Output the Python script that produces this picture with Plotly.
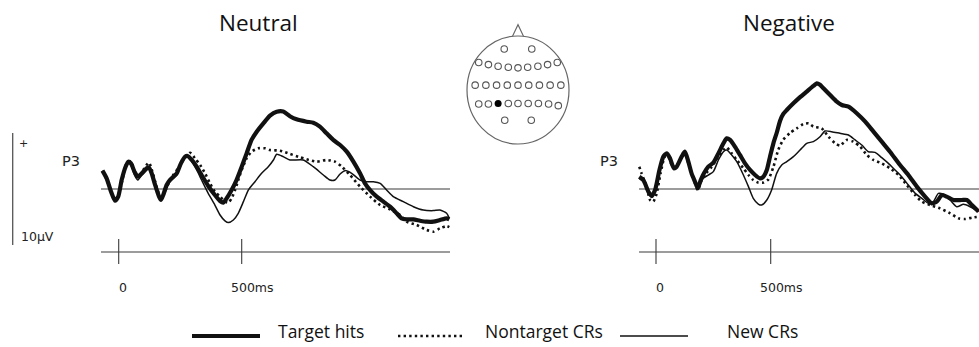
import plotly.graph_objects as go

W, H = 979, 347

# ---------------- data (time in ms, amplitude in microvolts) ----------------
neutral_target_t = [-66, -49, -31, -15, -2, 12, 28, 39, 50, 64, 77, 94, 114, 123, 134, 148, 164, 172, 181, 195,
                    208, 222, 236, 253, 270, 280, 297, 317, 337, 364, 391, 412, 425, 439, 459, 479, 500, 520, 540,
                    561, 588, 615, 642, 669, 696, 723, 764, 791, 818, 845, 872, 900, 927, 954, 981, 1001, 1022,
                    1049, 1076, 1103, 1130, 1150, 1171, 1198, 1225, 1252, 1279, 1306, 1333, 1344]
neutral_target_v = [1.64, 0.95, -0.24, -1.04, -0.68, 0.80, 1.99, 2.44, 2.29, 1.55, 1.10, 1.40, 1.85, 1.93, 1.40,
                    0.36, -0.68, -0.98, -0.54, 0.36, 0.80, 1.10, 1.40, 2.29, 2.89, 2.95, 2.59, 1.99, 1.25, 0.27,
                    -0.54, -1.07, -1.22, -0.83, -0.09, 0.80, 1.99, 3.18, 4.38, 5.12, 5.86, 6.55, 6.90, 6.92, 6.50,
                    6.22, 6.01, 5.92, 5.57, 4.97, 4.38, 3.93, 3.33, 2.44, 1.40, 0.51, -0.09, -0.68, -1.13, -1.58,
                    -2.17, -2.62, -2.71, -2.71, -2.83, -2.92, -2.92, -2.77, -2.62, -2.71]

neutral_nontarget_t = [-66, -49, -31, -15, 1, 15, 32, 50, 66, 83, 100, 123, 137, 154, 172, 188, 204, 222, 242, 263,
                       290, 310, 331, 351, 371, 391, 412, 432, 446, 459, 473, 486, 500, 520, 540, 567, 595, 615,
                       656, 696, 737, 764, 805, 845, 879, 907, 940, 981, 1022, 1063, 1103, 1144, 1171, 1211, 1252,
                       1279, 1306, 1333, 1344]
neutral_nontarget_v = [1.64, 0.86, -0.24, -0.98, -0.39, 0.80, 2.29, 2.44, 1.46, 1.10, 1.70, 2.35, 1.55, 0.21, -0.83,
                       -0.24, 0.57, 1.25, 1.85, 2.59, 3.24, 2.74, 2.14, 1.40, 0.51, -0.24, -0.68, -1.13, -1.22,
                       -0.83, -0.09, 0.80, 1.70, 2.74, 3.33, 3.63, 3.63, 3.48, 3.42, 3.13, 2.83, 2.65, 2.44, 2.59,
                       2.44, 1.99, 1.25, 0.21, -0.68, -1.43, -1.82, -2.32, -2.92, -3.21, -3.66, -3.81, -3.51, -3.30,
                       -3.40]

neutral_new_t = [-66, -49, -31, -15, -1, 12, 28, 39, 50, 64, 77, 94, 114, 123, 134, 148, 164, 172, 181, 195, 208,
                 222, 236, 253, 270, 280, 297, 317, 337, 364, 391, 412, 432, 446, 466, 486, 507, 527, 554, 581, 608,
                 629, 642, 669, 696, 750, 791, 832, 859, 879, 900, 920, 947, 981, 1008, 1035, 1063, 1089, 1116,
                 1157, 1198, 1238, 1279, 1306, 1333, 1344]
neutral_new_v = [1.55, 0.95, -0.24, -1.04, -0.68, 0.80, 1.99, 2.35, 2.14, 1.25, 0.80, 1.25, 1.70, 1.85, 1.25, 0.36,
                 -0.68, -0.98, -0.54, 0.21, 0.65, 0.95, 1.25, 2.14, 2.83, 2.89, 2.44, 1.70, 0.80, -0.39, -1.43,
                 -2.32, -2.85, -3.00, -2.77, -2.17, -1.13, -0.09, 0.65, 1.40, 1.99, 2.59, 3.10, 2.89, 2.59, 2.59,
                 1.99, 1.25, 0.80, 0.80, 1.34, 1.64, 1.40, 0.80, 0.65, 0.65, 0.51, -0.09, -0.68, -1.13, -1.58,
                 -1.88, -1.93, -1.88, -2.17, -2.62]

negative_target_t = [-73, -55, -33, -19, -4, 15, 32, 47, 61, 78, 90, 112, 126, 141, 155, 170, 182, 195, 209, 228,
                     250, 272, 294, 308, 323, 344, 366, 388, 410, 432, 453, 468, 483, 497, 512, 526, 541, 555, 570,
                     599, 628, 657, 686, 701, 715, 730, 759, 788, 810, 839, 875, 912, 948, 984, 1020, 1064, 1100,
                     1137, 1173, 1202, 1224, 1246, 1267, 1297, 1333, 1355, 1377, 1406]
negative_target_v = [1.10, 0.80, -0.24, -0.63, -0.09, 1.70, 2.89, 3.18, 2.74, 1.85, 1.99, 2.89, 3.33, 2.44, 1.40,
                     0.65, 0.06, 0.80, 1.40, 1.99, 2.35, 3.18, 4.08, 4.52, 4.38, 3.78, 3.04, 2.29, 1.70, 1.25, 0.95,
                     1.10, 1.70, 2.89, 4.10, 5.00, 6.10, 6.70, 7.05, 7.65, 8.20, 8.70, 9.20, 9.43, 9.30, 8.99, 8.39,
                     7.80, 7.50, 7.35, 6.76, 6.01, 5.12, 4.23, 3.33, 2.14, 1.25, 0.21, -0.68, -1.28, -1.13, -0.54,
                     -0.68, -0.98, -0.98, -0.98, -1.43, -2.02]

negative_nontarget_t = [-73, -63, -41, -26, -12, 3, 20, 39, 54, 68, 83, 105, 126, 141, 163, 182, 199, 218, 243, 272,
                        294, 308, 330, 352, 381, 403, 424, 446, 468, 490, 512, 533, 555, 584, 613, 642, 665, 686,
                        722, 752, 781, 802, 831, 860, 890, 919, 948, 984, 1020, 1057, 1093, 1130, 1159, 1195, 1238,
                        1282, 1319, 1348, 1377, 1406]
negative_nontarget_v = [1.99, 1.40, 0.21, -0.98, -1.13, -0.39, 1.40, 2.89, 2.89, 2.14, 1.85, 2.59, 3.18, 2.29, 0.95,
                        -0.09, 0.80, 1.40, 1.99, 2.89, 3.48, 3.72, 3.18, 2.59, 1.85, 1.25, 0.80, 0.57, 0.57, 0.86,
                        1.99, 3.50, 4.40, 5.00, 5.40, 5.80, 5.86, 5.57, 5.42, 4.67, 4.08, 3.87, 4.38, 4.23, 3.78,
                        3.04, 2.59, 2.29, 1.85, 1.25, 0.36, -0.54, -1.13, -1.43, -1.73, -2.17, -2.62, -2.68, -2.56,
                        -2.47]

negative_new_t = [-73, -55, -33, -19, -4, 15, 32, 47, 61, 78, 90, 112, 126, 141, 155, 170, 182, 206, 228, 250, 272,
                  294, 308, 330, 352, 381, 403, 424, 446, 461, 483, 504, 526, 548, 570, 599, 628, 657, 686, 715, 737,
                  766, 802, 839, 868, 897, 926, 955, 984, 1013, 1042, 1071, 1100, 1130, 1159, 1188, 1209, 1231, 1253,
                  1282, 1311, 1340, 1369, 1406]
negative_new_v = [0.95, 0.65, -0.24, -0.63, -0.09, 1.70, 2.80, 3.10, 2.65, 1.80, 1.90, 2.80, 3.25, 2.40, 1.35, 0.65,
                  0.06, 0.95, 1.25, 1.55, 2.59, 3.33, 3.48, 3.04, 2.44, 1.25, 0.21, -0.83, -1.34, -1.43, -0.98, -0.09,
                  1.40, 2.14, 2.44, 2.89, 3.48, 4.08, 4.23, 4.67, 5.18, 5.12, 4.97, 4.82, 4.38, 3.93, 3.33, 3.27,
                  2.80, 2.29, 1.70, 1.10, 0.36, -0.39, -0.83, -1.28, -1.13, -0.39, -0.48, -0.98, -1.58, -1.37, -1.58,
                  -2.02]

panel_titles = ["Neutral", "Negative"]
series_names = ["Target hits", "Nontarget CRs", "New CRs"]
tick_values = [0, 500]
tick_labels = ["0", "500ms"]
scale_bar_uv = 10
channel = "P3"

# electrode montage, head-normalised coordinates (u right, w up)
elec_u = [-0.27, 0.27,
          -0.77, -0.58, -0.39, -0.19, 0.0, 0.19, 0.39, 0.58, 0.77,
          -0.84, -0.63, -0.42, -0.21, 0.0, 0.21, 0.42, 0.63, 0.84,
          -0.77, -0.58, -0.39, -0.19, 0.0, 0.2, 0.4, 0.6, 0.79,
          -0.26, 0.26]
elec_w = [0.76, 0.76,
          0.51, 0.47, 0.44, 0.42, 0.41, 0.42, 0.44, 0.47, 0.51,
          0.09, 0.09, 0.09, 0.09, 0.09, 0.09, 0.09, 0.09, 0.09,
          -0.26, -0.26, -0.25, -0.25, -0.25, -0.25, -0.25, -0.26, -0.29,
          -0.56, -0.56]
selected_electrode = 22  # P3

# ---------------- layout geometry (pixels) ----------------
BASE_Y = 189.0           # pixel row of 0 uV
PX_PER_UV = 11.2
YDOM = (60.0, 305.0)
panels = [
    dict(x0=118.7, ppm=123.0 / 500, dom=(0.0, 460.0), start=-72, end=1347,
         title_x=258, p3_x=70.5),
    dict(x0=656.0, ppm=114.7 / 500, dom=(560.0, 979.0), start=-74, end=None,
         title_x=789, p3_x=609),
]
AXIS_ROW = 252.0
TICK_TOP, TICK_BOT = 239.0, 264.0
LABEL_ROW = 287.0
label_shift = [4, 11]


def fx(px):
    return px / W


def fy(py):
    return 1 - py / H


def uv(py):
    return (BASE_Y - py) / PX_PER_UV


fig = go.Figure()
styles = [dict(color="#111111", width=4.2),
          dict(color="#111111", width=2.6, dash="2.4px,3.2px"),
          dict(color="#111111", width=1.5)]
series = [
    [(neutral_target_t, neutral_target_v), (neutral_nontarget_t, neutral_nontarget_v), (neutral_new_t, neutral_new_v)],
    [(negative_target_t, negative_target_v), (negative_nontarget_t, negative_nontarget_v), (negative_new_t, negative_new_v)],
]

shapes = []
annotations = []
line_col = "#3a3a3a"

for i, p in enumerate(panels):
    xa = "x" if i == 0 else "x2"
    ya = "y" if i == 0 else "y2"
    xr = [(p["dom"][0] - p["x0"]) / p["ppm"], (p["dom"][1] - p["x0"]) / p["ppm"]]
    yr = [uv(YDOM[1]), uv(YDOM[0])]
    ax = dict(domain=[fx(p["dom"][0]), fx(p["dom"][1])], range=xr, visible=False, fixedrange=True)
    ay = dict(domain=[fy(YDOM[1]), fy(YDOM[0])], range=yr, visible=False, fixedrange=True)
    if i == 0:
        fig.update_layout(xaxis=ax, yaxis=ay)
    else:
        ax["anchor"] = "y2"
        ay["anchor"] = "x2"
        fig.update_layout(xaxis2=ax, yaxis2=ay)
    end = p["end"] if p["end"] is not None else xr[1]
    # baseline and time axis
    shapes.append(dict(type="line", xref=xa, yref=ya, x0=p["start"], x1=end, y0=0, y1=0,
                       line=dict(color=line_col, width=1.1), layer="below"))
    shapes.append(dict(type="line", xref=xa, yref=ya, x0=p["start"], x1=end, y0=uv(AXIS_ROW), y1=uv(AXIS_ROW),
                       line=dict(color=line_col, width=1.1)))
    for k, tv in enumerate(tick_values):
        shapes.append(dict(type="line", xref=xa, yref=ya, x0=tv, x1=tv, y0=uv(TICK_TOP), y1=uv(TICK_BOT),
                           line=dict(color=line_col, width=1.1)))
        annotations.append(dict(xref=xa, yref=ya, x=tv, y=uv(LABEL_ROW), text=tick_labels[k], showarrow=False,
                                xanchor="center", yanchor="middle", xshift=label_shift[k],
                                font=dict(family="DejaVu Sans", size=12.5, color="#222222")))
    # traces
    for j, (t, v) in enumerate(series[i]):
        fig.add_trace(go.Scatter(x=t, y=v, mode="lines", xaxis=xa, yaxis=ya, name=series_names[j],
                                 line=dict(shape="spline", smoothing=0.6, **styles[j]), showlegend=False,
                                 hoverinfo="skip"))
    # title and channel label
    annotations.append(dict(xref="paper", yref="paper", x=fx(p["title_x"]), y=fy(22), text=panel_titles[i],
                            showarrow=False, xanchor="center", yanchor="middle",
                            font=dict(family="Open Sans", size=22.5, color="#111111")))
    annotations.append(dict(xref="paper", yref="paper", x=fx(p["p3_x"]), y=fy(161), text=channel,
                            showarrow=False, xanchor="center", yanchor="middle",
                            font=dict(family="DejaVu Sans", size=14.5, color="#222222")))

# scale bar (left panel): +/- half of scale_bar_uv
shapes.append(dict(type="line", xref="paper", yref="y", x0=fx(12.7), x1=fx(12.7),
                   y0=-scale_bar_uv / 2, y1=scale_bar_uv / 2, line=dict(color="#555555", width=1.3)))
annotations.append(dict(xref="paper", yref="paper", x=fx(23), y=fy(144), text="+", showarrow=False,
                        xanchor="center", yanchor="middle", font=dict(family="DejaVu Sans", size=11, color="#222")))
annotations.append(dict(xref="paper", yref="paper", x=fx(19), y=fy(236), text=f"{scale_bar_uv}µV",
                        showarrow=False, xanchor="left", yanchor="middle",
                        font=dict(family="DejaVu Sans", size=12.5, color="#222")))

# head schematic
HX0, HX1, HY0, HY1 = 455.0, 580.0, 15.0, 155.0
HCX, HCY, HRX, HRY = 518.0, 90.0, 51.0, 54.0
fig.update_layout(
    xaxis3=dict(domain=[fx(HX0), fx(HX1)], range=[(HX0 - HCX) / HRX, (HX1 - HCX) / HRX], visible=False,
                fixedrange=True, anchor="y3"),
    yaxis3=dict(domain=[fy(HY1), fy(HY0)], range=[(HCY - HY1) / HRY, (HCY - HY0) / HRY], visible=False,
                fixedrange=True, anchor="x3"),
)
shapes.append(dict(type="circle", xref="x3", yref="y3", x0=-1, x1=1, y0=-1, y1=1,
                   line=dict(color="#666666", width=1.2)))
shapes.append(dict(type="path", xref="x3", yref="y3", path="M -0.11 0.99 L 0 1.21 L 0.11 0.99",
                   line=dict(color="#666666", width=1.1)))
sel_u = [elec_u[selected_electrode]]
sel_w = [elec_w[selected_electrode]]
oth_u = [u for k, u in enumerate(elec_u) if k != selected_electrode]
oth_w = [w for k, w in enumerate(elec_w) if k != selected_electrode]
fig.add_trace(go.Scatter(x=oth_u, y=oth_w, mode="markers", xaxis="x3", yaxis="y3", showlegend=False,
                         hoverinfo="skip",
                         marker=dict(symbol="circle-open", size=6.5, color="#555555", line=dict(width=1.1))))
fig.add_trace(go.Scatter(x=sel_u, y=sel_w, mode="markers", xaxis="x3", yaxis="y3", showlegend=False,
                         hoverinfo="skip", marker=dict(symbol="circle", size=7, color="#000000")))

# legend (manual)
LEG_Y = 336
leg_lines = [(192, 260), (398, 463), (620, 688)]
leg_text_x = [276, 483, 725]
for j in range(3):
    st = dict(styles[j])
    shapes.append(dict(type="line", xref="paper", yref="paper", x0=fx(leg_lines[j][0]), x1=fx(leg_lines[j][1]),
                       y0=fy(LEG_Y), y1=fy(LEG_Y), line=st))
    annotations.append(dict(xref="paper", yref="paper", x=fx(leg_text_x[j]), y=fy(331), text=series_names[j],
                            showarrow=False, xanchor="left", yanchor="middle",
                            font=dict(family="Open Sans", size=17.5, color="#111111")))

fig.update_layout(width=W, height=H, margin=dict(l=0, r=0, t=0, b=0), paper_bgcolor="white",
                  plot_bgcolor="rgba(0,0,0,0)", shapes=shapes, annotations=annotations, showlegend=False)
fig.write_html("out.html", config={"displayModeBar": False})
